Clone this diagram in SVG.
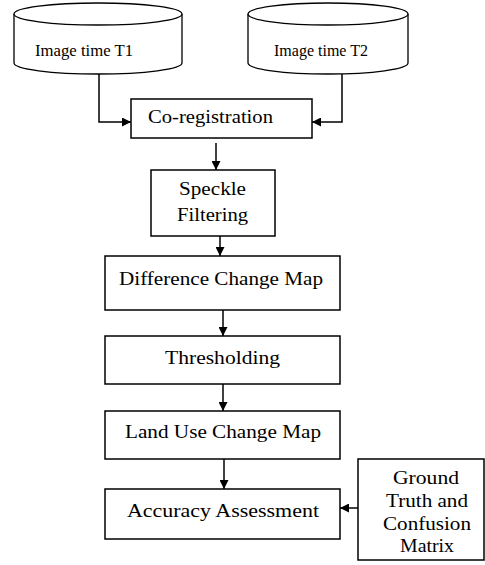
<svg xmlns="http://www.w3.org/2000/svg" width="485" height="565" viewBox="0 0 485 565">
<defs>
<style>
.box{fill:#fff;stroke:#000;stroke-width:1.5}
.cyl{fill:#fff;stroke:#000;stroke-width:1.3}
.lbl{font-family:"Liberation Serif","Times New Roman",serif;font-size:19px;fill:#000}
.sm{font-size:17px}
.con{fill:none;stroke:#000;stroke-width:1.5}
</style>
<marker id="ah" viewBox="0 0 10 10" refX="10" refY="5" markerWidth="9" markerHeight="9" markerUnits="userSpaceOnUse" orient="auto">
<path d="M0,0 L10,5 L0,10 Z" fill="#000"/>
</marker>
</defs>
<rect width="485" height="565" fill="#fff"/>
<g id="connectors">
<path class="con" d="M99,74 V122 H131" marker-end="url(#ah)"/>
<path class="con" d="M342,74 V122 H312" marker-end="url(#ah)"/>
<path class="con" d="M216,143 V170" marker-end="url(#ah)"/>
<path class="con" d="M220,233 V256" marker-end="url(#ah)"/>
<path class="con" d="M223,310 V336" marker-end="url(#ah)"/>
<path class="con" d="M223,384 V411" marker-end="url(#ah)"/>
<path class="con" d="M224,459 V489" marker-end="url(#ah)"/>
<path class="con" d="M358,508 H340" marker-end="url(#ah)"/>
</g>
<g id="t1">
<path class="cyl" d="M14,14 V63 A84,11 0 0 0 182,63 V14"/>
<ellipse class="cyl" cx="98" cy="14" rx="84" ry="11"/>
<text class="lbl sm" x="35" y="56" textLength="98" lengthAdjust="spacingAndGlyphs">Image time T1</text>
</g>
<g id="t2">
<path class="cyl" d="M248,14 V63 A80,11 0 0 0 408,63 V14"/>
<ellipse class="cyl" cx="328" cy="14" rx="80" ry="11"/>
<text class="lbl sm" x="274" y="56" textLength="94" lengthAdjust="spacingAndGlyphs">Image time T2</text>
</g>
<g id="coreg">
<rect class="box" x="131" y="99" width="181" height="39"/>
<text class="lbl" x="148" y="123" textLength="125" lengthAdjust="spacingAndGlyphs">Co-registration</text>
</g>
<g id="speckle">
<rect class="box" x="151" y="170" width="124" height="66"/>
<text class="lbl" x="179" y="195" textLength="67" lengthAdjust="spacingAndGlyphs">Speckle</text>
<text class="lbl" x="177" y="221" textLength="71" lengthAdjust="spacingAndGlyphs">Filtering</text>
</g>
<g id="diff">
<rect class="box" x="105" y="256" width="235" height="54"/>
<text class="lbl" x="119" y="285" textLength="204" lengthAdjust="spacingAndGlyphs">Difference Change Map</text>
</g>
<g id="thresh">
<rect class="box" x="105" y="336" width="235" height="48"/>
<text class="lbl" x="165" y="364" textLength="115" lengthAdjust="spacingAndGlyphs">Thresholding</text>
</g>
<g id="landuse">
<rect class="box" x="105" y="411" width="235" height="48"/>
<text class="lbl" x="125" y="438" textLength="196" lengthAdjust="spacingAndGlyphs">Land Use Change Map</text>
</g>
<g id="accuracy">
<rect class="box" x="105" y="489" width="235" height="50"/>
<text class="lbl" x="127" y="517" textLength="192" lengthAdjust="spacingAndGlyphs">Accuracy Assessment</text>
</g>
<g id="ground">
<rect class="box" x="358" y="459" width="126" height="101"/>
<text class="lbl" x="393" y="484" textLength="66" lengthAdjust="spacingAndGlyphs">Ground</text>
<text class="lbl" x="386" y="507" textLength="82" lengthAdjust="spacingAndGlyphs">Truth and</text>
<text class="lbl" x="383" y="530" textLength="88" lengthAdjust="spacingAndGlyphs">Confusion</text>
<text class="lbl" x="400" y="552" textLength="54" lengthAdjust="spacingAndGlyphs">Matrix</text>
</g>
</svg>
